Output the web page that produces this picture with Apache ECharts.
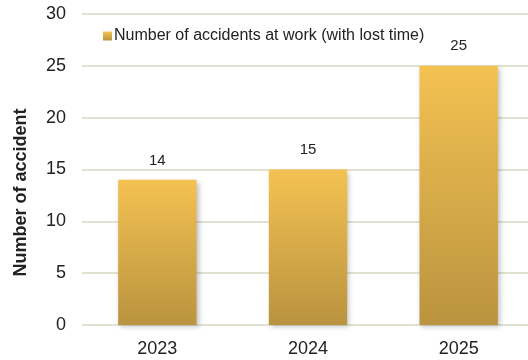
<!DOCTYPE html>
<html>
<head>
<meta charset="utf-8">
<script src="https://cdn.jsdelivr.net/npm/echarts@6/dist/echarts.min.js"></script>
<style>
  html, body { margin: 0; padding: 0; background: #ffffff; }
  #chart { width: 528px; height: 360px; }
</style>
</head>
<body>
<div id="chart"></div>
<script>
// Accidents at work with lost time, by year
const years = ['2023', '2024', '2025'];
const accidents = [14, 15, 25];
const yTicks = { min: 0, max: 30, interval: 5 };
const seriesName = 'Number of accidents at work (with lost time)';

const barGradient = new echarts.graphic.LinearGradient(0, 0, 0, 1, [
  { offset: 0, color: '#f4c252' },
  { offset: 1, color: '#b9933f' }
]);

const chart = echarts.init(document.getElementById('chart'));
chart.setOption({
  animation: false,
  textStyle: { fontFamily: 'Liberation Sans, Arial, sans-serif' },
  legend: {
    data: [seriesName],
    left: 98,
    top: 23,
    icon: 'rect',
    itemWidth: 9,
    itemHeight: 9,
    itemGap: 4,
    textStyle: { fontSize: 16, color: '#222', padding: [0, 0, 0, -3] }
  },
  grid: {
    left: 82, width: 452, top: 14, bottom: 35,
    containLabel: false,
    outerBoundsMode: 'none'
  },
  xAxis: {
    type: 'category',
    data: years,
    axisLine: { show: false },
    axisTick: { show: false },
    axisLabel: { fontSize: 18, color: '#222', margin: 15 }
  },
  yAxis: {
    type: 'value',
    min: yTicks.min,
    max: yTicks.max,
    interval: yTicks.interval,
    name: 'Number of accident',
    nameLocation: 'middle',
    nameGap: 52,
    nameTextStyle: { fontSize: 18, fontWeight: 'bold', color: '#222', padding: [0, 46, 0, 0] },
    axisLine: { show: false },
    axisTick: { show: false },
    axisLabel: { fontSize: 18, color: '#222', margin: 16 },
    splitLine: { lineStyle: { color: '#e2e2d0', width: 2 } }
  },
  series: [{
    name: seriesName,
    type: 'bar',
    data: accidents,
    barWidth: '52%',
    itemStyle: {
      color: barGradient,
      shadowColor: 'rgba(0,0,0,0.25)',
      shadowBlur: 5,
      shadowOffsetX: 2,
      shadowOffsetY: 2
    },
    label: {
      show: true,
      position: 'top',
      distance: 12,
      fontSize: 15,
      color: '#222'
    }
  }]
});
</script>
</body>
</html>
